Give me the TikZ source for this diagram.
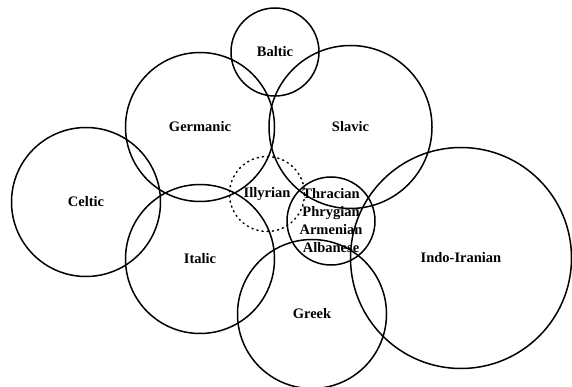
\documentclass[tikz,border=0pt]{standalone}
\usepackage{fontspec}
\setmainfont{Liberation Serif}
\usetikzlibrary{positioning}

\begin{document}
\begin{tikzpicture}[
    x=1pt,y=-1pt,
    ring/.style={draw, circle, line width=1.5pt, inner sep=0pt},
    faint/.style={draw, circle, line width=1.5pt, inner sep=0pt, dash pattern=on 1.2pt off 4pt, line cap=round},
    lang/.style={font=\fontsize{14.5}{18}\selectfont\bfseries, align=center, inner sep=0pt}
]
    \useasboundingbox (0,0) rectangle (572,387);

    % --- circles ---
    \node[ring, minimum size=88pt] (baltic) at (275,52) {};
    \node[ring, minimum size=149pt] (germanic) at (200,127) {};
    \node[ring, minimum size=163pt] (slavic) at (350.5,127) {};
    \node[ring, minimum size=149pt] (celtic) at (86,202) {};
    \node[ring, minimum size=149pt] (italic) at (200,259) {};
    \node[faint, minimum size=75pt] (illyrian) at (267,194) {};
    \node[ring, minimum size=88pt] (thracian) at (331,221) {};
    \node[ring, minimum size=149pt] (greek) at (312,314) {};
    \node[ring, minimum size=221pt] (indoiran) at (461,258) {};

    % --- labels ---
    \node[lang] at (baltic) {Baltic};
    \node[lang] at (germanic) {Germanic};
    \node[lang] at (slavic) {Slavic};
    \node[lang] at (celtic) {Celtic};
    \node[lang] at (italic) {Italic};
    \node[lang] at (illyrian) {Illyrian};
    \node[lang] at (thracian) {Thracian\\Phrygian\\Armenian\\Albanese};
    \node[lang] at (greek) {Greek};
    \node[lang] at (indoiran) {Indo-Iranian};

\end{tikzpicture}
\end{document}
